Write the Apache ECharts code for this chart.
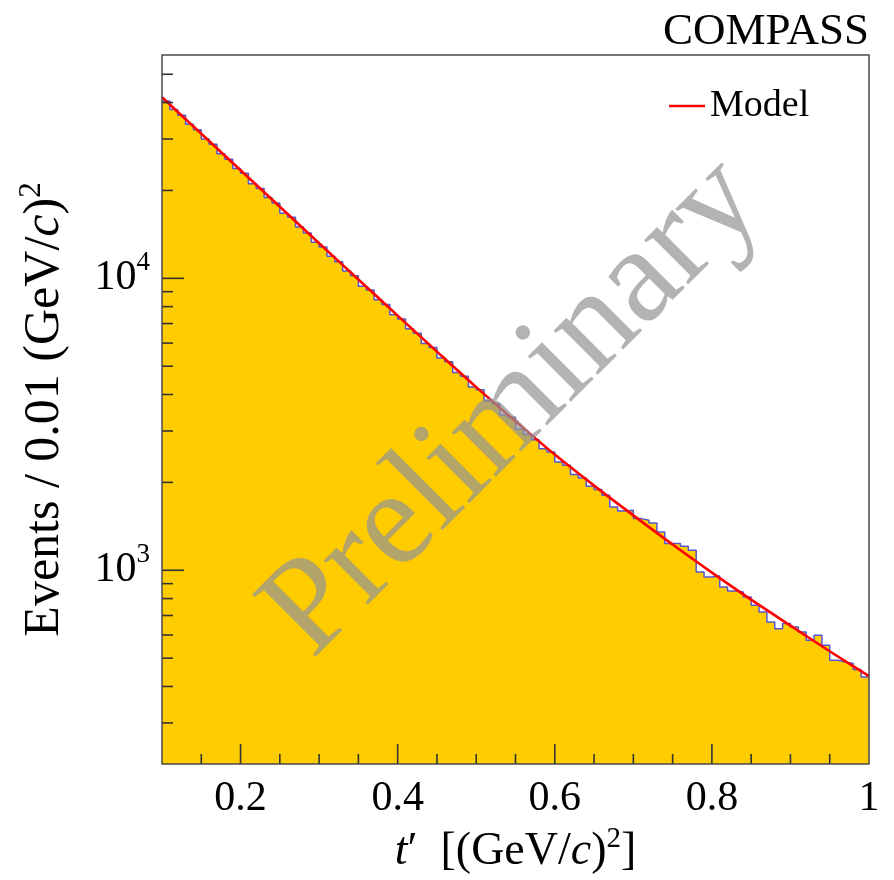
<!DOCTYPE html>
<html>
<head>
<meta charset="utf-8">
<script src="https://cdn.jsdelivr.net/npm/echarts@6/dist/echarts.min.js"></script>
<style>
  html, body { margin: 0; padding: 0; background: #fff; }
  #chart { width: 894px; height: 880px; }
</style>
</head>
<body>
<div id="chart"></div>
<script>
// t' histogram, 0.01 (GeV/c)^2 bins from 0.10 to 1.00
var BIN_START = 0.10;
var BIN_WIDTH = 0.01;
var counts = [
  40500, 37900, 36200, 33700, 32300, 30000, 28800, 26700, 25600, 23800,
  22900, 21100, 20300, 18900, 18100, 16700, 16200, 15000, 14300, 13300,
  12800, 11900, 11400, 10600, 10200, 9400, 9120, 8450, 8130, 7500,
  7250, 6720, 6480, 5980, 5790, 5330, 5180, 4760, 4620, 4240,
  4150, 3810, 3720, 3400, 3340, 3040, 2920, 2800, 2610, 2540,
  2350, 2290, 2130, 2070, 1940, 1890, 1806, 1648, 1597, 1605,
  1503, 1483, 1453, 1353, 1234, 1234, 1208, 1171, 987, 949,
  956, 877, 849, 843, 810, 759, 720, 665, 631, 657,
  639, 615, 576, 599, 554, 492, 485, 479, 457, 431
];

// model curve
var modelT = [0.10, 0.15, 0.20, 0.25, 0.30, 0.35, 0.40, 0.45, 0.50, 0.55,
              0.60, 0.65, 0.70, 0.75, 0.80, 0.85, 0.90, 0.95, 1.00];
var modelY = [41690, 31260, 23440, 17580, 13180, 9910, 7450, 5610, 4240, 3240,
              2490, 1950, 1542, 1225, 982, 793, 646, 528, 434];

// axes
var X_MIN = 0.1, X_MAX = 1.0;
var Y_MIN = 217, Y_MAX = 58200;
var xMajor = [0.2, 0.4, 0.6, 0.8];
var xMinor = [0.15, 0.25, 0.3, 0.35, 0.45, 0.5, 0.55, 0.65, 0.7, 0.75, 0.85, 0.9, 0.95];
var yMajor = [1000, 10000];
var yMinor = [300, 400, 500, 600, 700, 800, 900,
              2000, 3000, 4000, 5000, 6000, 7000, 8000, 9000,
              20000, 30000, 40000, 50000];

var SERIF = "'Liberation Serif', 'DejaVu Serif', serif";

var histData = counts.map(function (c, i) {
  return [BIN_START + i * BIN_WIDTH, c];
});
histData.push([BIN_START + counts.length * BIN_WIDTH, counts[counts.length - 1]]);

var modelData = modelT.map(function (t, i) { return [t, modelY[i]]; });

// tick marks (ROOT style, pointing inside the frame)
var tickData = [];
xMajor.forEach(function (v) { tickData.push([v, Y_MIN, 0, 20]); });
xMinor.forEach(function (v) { tickData.push([v, Y_MIN, 0, 10]); });
yMajor.forEach(function (v) { tickData.push([X_MIN, v, 1, 22]); });
yMinor.forEach(function (v) { tickData.push([X_MIN, v, 1, 11]); });

var chart = echarts.init(document.getElementById('chart'));

var option = {
  animation: false,
  backgroundColor: '#fff',
  grid: {
    left: 162, right: 25, top: 55, bottom: 116,
    show: true, z: 10,
    backgroundColor: 'transparent',
    borderColor: '#4a4a4a', borderWidth: 1.5
  },
  legend: {
    data: ['Model'],
    left: 664, top: 82,
    icon: 'rect', itemWidth: 36, itemHeight: 2.5,
    textStyle: { fontFamily: SERIF, fontSize: 38, color: '#000' }
  },
  xAxis: {
    type: 'value', min: X_MIN, max: X_MAX, interval: 0.1,
    axisLine: { show: false }, axisTick: { show: false }, splitLine: { show: false },
    axisLabel: {
      margin: 14, color: '#000', fontFamily: SERIF, fontSize: 42,
      showMinLabel: true, showMaxLabel: true,
      formatter: function (v) {
        var r = Math.round(v * 10);
        if (r % 2 !== 0) return '';
        return r === 10 ? '1' : (r / 10).toFixed(1);
      }
    },
    name: '{i|t}{a|\u2032  [(GeV/}{i|c}{a|)}{s|2}{a|]}',
    nameLocation: 'middle', nameGap: 60,
    nameTextStyle: {
      rich: {
        a: { fontFamily: SERIF, fontSize: 46, color: '#000', lineHeight: 54 },
        i: { fontFamily: SERIF, fontSize: 46, fontStyle: 'italic', color: '#000', lineHeight: 54 },
        s: { fontFamily: SERIF, fontSize: 29, color: '#000', verticalAlign: 'top', lineHeight: 30 }
      }
    }
  },
  yAxis: {
    type: 'log', logBase: 10, min: Y_MIN, max: Y_MAX,
    axisLine: { show: false }, axisTick: { show: false }, splitLine: { show: false },
    axisLabel: {
      margin: 12,
      formatter: function (v) {
        var l = Math.log10(v);
        if (Math.abs(l - Math.round(l)) > 1e-6) return '';
        return '{b|10}{s|' + Math.round(l) + '}';
      },
      rich: {
        b: { fontFamily: SERIF, fontSize: 42, color: '#000', lineHeight: 58 },
        s: { fontFamily: SERIF, fontSize: 27, color: '#000', verticalAlign: 'top', lineHeight: 28 }
      }
    },
    name: '{a|Events / 0.01 (GeV/}{i|c}{a|)}{s|2}',
    nameLocation: 'middle', nameGap: 88, nameRotate: 90,
    nameTextStyle: {
      rich: {
        a: { fontFamily: SERIF, fontSize: 50, color: '#000', lineHeight: 58 },
        i: { fontFamily: SERIF, fontSize: 50, fontStyle: 'italic', color: '#000', lineHeight: 58 },
        s: { fontFamily: SERIF, fontSize: 31, color: '#000', verticalAlign: 'top', lineHeight: 32 }
      }
    }
  },
  series: [
    {
      name: 'Data', type: 'line', step: 'end', data: histData,
      symbol: 'none', z: 2,
      lineStyle: { color: '#5656cc', width: 1.5 },
      itemStyle: { color: '#5656cc' },
      areaStyle: { color: '#ffcc00', opacity: 1, origin: 'start' }
    },
    {
      name: 'Model', type: 'line', data: modelData, smooth: 0.3,
      symbol: 'none', z: 3,
      lineStyle: { color: '#ff0000', width: 2.6 },
      itemStyle: { color: '#ff0000' }
    },
    {
      name: 'ticks', type: 'custom', data: tickData, z: 4, clip: false, silent: true,
      renderItem: function (params, api) {
        var p = api.coord([api.value(0), api.value(1)]);
        var len = api.value(3);
        var shape = api.value(2) === 1
          ? { x1: p[0], y1: p[1], x2: p[0] + len, y2: p[1] }
          : { x1: p[0], y1: p[1], x2: p[0], y2: p[1] - len };
        return { type: 'line', shape: shape, style: { stroke: '#333', lineWidth: 1.6 } };
      }
    }
  ],
  graphic: [
    {
      type: 'text', right: 25, top: 10, z: 20,
      style: { text: 'COMPASS', fontFamily: SERIF, fontSize: 45, fill: '#000' }
    },
    {
      type: 'text', x: 514, y: 408, rotation: Math.PI / 4, z: 30, silent: true,
      style: {
        text: 'Preliminary', fontFamily: SERIF, fontSize: 136,
        fill: 'rgba(148,148,148,0.71)', align: 'center', verticalAlign: 'middle'
      }
    }
  ]
};

chart.setOption(option);
</script>
</body>
</html>
